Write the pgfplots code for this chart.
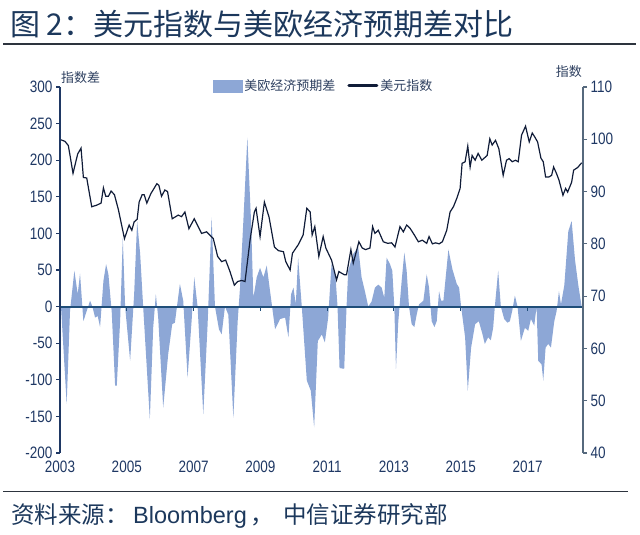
\documentclass[border=0pt]{standalone}
\usepackage{pgfplots}
\pgfplotsset{compat=1.18}
\usepackage{fontspec}
\setmainfont{Liberation Sans}
\newfontfamily\narrow{Liberation Sans}[FakeStretch=0.82]
\newfontfamily\cjk{Noto Sans CJK SC}
\definecolor{areacol}{RGB}{141,167,214}
\definecolor{linecol}{RGB}{16,28,56}
\definecolor{zerocol}{RGB}{31,78,121}
\definecolor{tickcol}{RGB}{31,56,100}
\definecolor{titlecol}{RGB}{28,56,92}
\definecolor{rulecol}{RGB}{45,52,62}
\definecolor{raxcol}{RGB}{86,105,125}
\definecolor{legcol}{RGB}{46,64,96}
\begin{document}
\begin{tikzpicture}[x=1pt,y=1pt]
\path[use as bounding box] (0,0) rectangle (640,535);
\node[anchor=base west, text=titlecol, font=\cjk\fontsize{30}{30}\selectfont, inner sep=0] at (10,499) {图 2：美元指数与美欧经济预期差对比};
\draw[rulecol, line width=2pt] (3,491) -- (636,491);
\draw[rulecol, line width=1.5pt] (3,43.5) -- (628,43.5);
\node[anchor=base west, inner sep=0, font=\cjk\fontsize{23.5}{23.5}\selectfont, text=titlecol] at (11,11) {资料来源：};
\node[anchor=base west, inner sep=0, font=\fontsize{23.5}{23.5}\selectfont, text=titlecol] at (133,11) {Bloomberg};
\node[anchor=base west, inner sep=0, font=\cjk\fontsize{23.5}{23.5}\selectfont, text=titlecol] at (250,11) {，};
\node[anchor=base west, inner sep=0, font=\cjk\fontsize{23.5}{23.5}\selectfont, text=titlecol] at (283,11) {中信证券研究部};
\node[anchor=west, inner sep=0, font=\cjk\fontsize{13}{13}\selectfont, text=legcol] at (61,457.5) {指数差};
\node[anchor=east, inner sep=0, font=\cjk\fontsize{13}{13}\selectfont, text=legcol] at (582,463) {指数};

\begin{axis}[at={(60pt,82pt)}, anchor=south west, scale only axis,
  width=523pt, height=366pt,
  xmin=2003, xmax=2018.66, ymin=-200, ymax=300,
  axis y line*=left, axis x line*=bottom,
  x axis line style={draw=none},
  y axis line style={tickcol, line width=1.4pt},
  xtick={2003,2005,...,2017},
  xtick style={draw=none},
  ytick={-200,-150,...,300},
  ytick align=outside,
  ytick style={tickcol, line width=1.2pt},
  major tick length=4pt,
  /pgf/number format/assume math mode=true,
  /pgf/number format/1000 sep={},
  tick label style={font=\narrow\fontsize{16.5}{16.5}\selectfont, text=tickcol},
  xticklabel style={yshift=-4pt},
  axis on top,
  clip=false]
\addplot[fill=areacol, draw=none] coordinates {
(2003.03,0) (2003.20,-133) (2003.30,-6) (2003.43,49) (2003.53,17) (2003.60,45)
(2003.70,-20) (2003.80,-6) (2003.90,8) (2003.97,0) (2004.05,-15) (2004.13,-13)
(2004.20,-28) (2004.30,35) (2004.38,58) (2004.45,44) (2004.55,-8) (2004.65,-108)
(2004.70,-108) (2004.80,-20) (2004.88,94) (2004.95,0) (2005.10,-74) (2005.22,17)
(2005.31,117) (2005.40,72) (2005.49,0) (2005.69,-154) (2005.79,-29) (2005.87,17)
(2005.94,-15) (2006.09,-138) (2006.24,-65) (2006.36,-24) (2006.44,-22) (2006.59,31)
(2006.69,8) (2006.82,-97) (2006.94,-20) (2007.02,40) (2007.12,0) (2007.29,-147)
(2007.42,-24) (2007.54,122) (2007.64,0) (2007.76,-31) (2007.84,-38) (2007.94,0)
(2008.04,-11) (2008.19,-152) (2008.32,-20) (2008.39,26) (2008.49,117) (2008.61,231)
(2008.72,117) (2008.79,12) (2008.89,40) (2008.99,53) (2009.09,40) (2009.19,56)
(2009.29,21) (2009.44,-31) (2009.59,-17) (2009.74,-15) (2009.84,-42) (2009.92,17)
(2009.99,26) (2010.06,3) (2010.13,67) (2010.24,0) (2010.39,-101) (2010.51,-115)
(2010.61,-165) (2010.72,-47) (2010.84,-38) (2010.93,-49) (2011.03,-15) (2011.13,58)
(2011.25,40) (2011.31,0) (2011.37,-84) (2011.51,-85) (2011.58,0) (2011.63,49)
(2011.78,72) (2011.93,81) (2012.03,40) (2012.13,21) (2012.23,0) (2012.33,7)
(2012.43,26) (2012.53,30) (2012.63,26) (2012.71,12) (2012.78,67) (2012.88,58)
(2012.95,49) (2013.01,0) (2013.06,-85) (2013.13,-20) (2013.23,35) (2013.31,74)
(2013.38,49) (2013.45,0) (2013.53,-24) (2013.61,-28) (2013.68,-11) (2013.75,3)
(2013.88,8) (2013.98,44) (2014.05,26) (2014.13,-20) (2014.21,-28) (2014.28,-20)
(2014.35,21) (2014.41,8) (2014.48,8) (2014.63,78) (2014.75,51) (2014.88,31)
(2014.95,26) (2015.01,0) (2015.13,-42) (2015.21,-115) (2015.31,-56) (2015.43,-24)
(2015.54,-20) (2015.64,-36) (2015.72,-51) (2015.82,-42) (2015.90,-46) (2015.97,-29)
(2016.02,0) (2016.12,49) (2016.20,0) (2016.30,-17) (2016.40,-22) (2016.47,-20)
(2016.54,-6) (2016.62,15) (2016.70,0) (2016.80,-47) (2016.92,-29) (2017.02,-33)
(2017.10,-17) (2017.20,-26) (2017.27,0) (2017.32,-74) (2017.42,-79) (2017.47,-101)
(2017.54,-56) (2017.62,-51) (2017.70,-56) (2017.80,-20) (2017.87,-6) (2017.94,21)
(2018.00,3) (2018.10,29) (2018.22,103) (2018.32,117) (2018.42,64) (2018.52,29)
(2018.62,0)
} \closedcycle;
\addplot[zerocol, line width=2pt] coordinates {(2003,0) (2018.66,0)};
\pgfplotsinvokeforeach{2005,2007,2009,2011,2013,2015,2017}{
  \draw[zerocol, line width=1pt] (axis cs:#1,0) -- ++(0pt,-4pt);
}
\end{axis}

\begin{axis}[at={(60pt,82pt)}, anchor=south west, scale only axis,
  width=523pt, height=366pt,
  xmin=2003, xmax=2018.66, ymin=40, ymax=110,
  axis y line*=right, axis x line=none,
  y axis line style={raxcol, line width=1.4pt},
  ytick={40,50,...,110},
  ytick align=outside,
  ytick style={raxcol, line width=1.2pt},
  major tick length=4pt,
  /pgf/number format/assume math mode=true,
  tick label style={font=\narrow\fontsize{16.5}{16.5}\selectfont, text=tickcol},
  legend columns=2,
  legend style={draw=none, fill=none, inner sep=0pt, outer sep=0pt,
    at={(axis description cs:0.2925,1.003)}, anchor=west,
    font=\cjk\fontsize{13}{13}\selectfont, text=legcol,
    /tikz/every even column/.append style={column sep=10pt},
    nodes={inner sep=2pt}},
  clip=false]
\addlegendimage{legend image code/.code={\fill[areacol] (0pt,-6pt) rectangle (29pt,6pt);}}
\addlegendentry{美欧经济预期差}
\addplot[linecol, line width=1.2pt, sharp plot,
  legend image code/.code={\draw[linecol, line width=3pt, line cap=round] (1.5pt,0pt) -- (29.5pt,0pt);}] coordinates {
(2003.03,99.9) (2003.15,99.6) (2003.25,98.8) (2003.39,93.5) (2003.53,97.2) (2003.63,98.3)
(2003.70,92.7) (2003.80,92.6) (2003.95,87.1) (2004.10,87.4) (2004.23,87.8) (2004.30,90.7)
(2004.37,89.1) (2004.45,89.1) (2004.53,90.1) (2004.63,89.4) (2004.75,86.5) (2004.93,81.0)
(2005.07,83.6) (2005.15,82.6) (2005.22,84.2) (2005.31,84.7) (2005.37,88.0) (2005.46,89.4)
(2005.52,89.4) (2005.60,87.8) (2005.72,89.6) (2005.90,91.5) (2005.96,91.2) (2006.04,89.1)
(2006.14,90.3) (2006.22,90.0) (2006.36,84.8) (2006.54,85.5) (2006.64,85.2) (2006.74,86.1)
(2006.86,82.9) (2007.02,84.8) (2007.24,82.0) (2007.39,82.3) (2007.59,81.0) (2007.72,77.6)
(2007.84,76.6) (2007.96,76.9) (2008.09,74.7) (2008.22,72.1) (2008.32,72.8) (2008.44,73.0)
(2008.54,72.8) (2008.69,80.7) (2008.82,86.1) (2008.87,86.8) (2008.99,81.4) (2009.12,88.0)
(2009.26,85.1) (2009.42,79.4) (2009.54,78.7) (2009.69,78.5) (2009.76,76.6) (2009.89,75.0)
(2009.96,78.2) (2010.13,79.8) (2010.28,81.7) (2010.39,86.8) (2010.49,86.1) (2010.55,81.7)
(2010.63,83.3) (2010.75,77.6) (2010.88,81.4) (2010.96,79.2) (2011.13,76.9) (2011.28,73.1)
(2011.35,74.7) (2011.51,74.1) (2011.58,74.1) (2011.71,78.9) (2011.78,76.3) (2011.95,80.4)
(2012.05,79.2) (2012.15,78.9) (2012.28,79.2) (2012.36,83.3) (2012.43,82.0) (2012.53,82.6)
(2012.68,80.4) (2012.81,80.1) (2012.93,80.2) (2013.03,79.4) (2013.18,83.3) (2013.28,82.3)
(2013.38,83.6) (2013.48,83.0) (2013.61,81.7) (2013.73,80.4) (2013.85,80.7) (2013.98,80.1)
(2014.05,81.4) (2014.15,80.0) (2014.25,80.2) (2014.35,80.0) (2014.45,80.4) (2014.58,82.6)
(2014.68,86.1) (2014.78,87.1) (2014.88,88.7) (2014.98,90.6) (2015.04,95.4) (2015.13,95.7)
(2015.21,98.7) (2015.28,94.7) (2015.34,96.9) (2015.43,96.0) (2015.52,97.3) (2015.63,96.0)
(2015.79,96.9) (2015.87,100.1) (2015.94,98.9) (2016.04,99.8) (2016.14,98.2) (2016.27,93.1)
(2016.37,96.0) (2016.45,96.3) (2016.54,95.7) (2016.64,96.0) (2016.72,95.7) (2016.82,100.8)
(2016.94,102.5) (2017.05,99.5) (2017.14,101.2) (2017.22,100.4) (2017.30,99.5) (2017.40,96.4)
(2017.47,95.7) (2017.54,92.8) (2017.64,92.8) (2017.72,93.1) (2017.78,94.7) (2017.87,93.4)
(2017.94,92.2) (2018.06,89.3) (2018.14,90.6) (2018.20,89.9) (2018.32,91.8) (2018.38,94.1)
(2018.50,94.6) (2018.62,95.5)
};
\addlegendentry{美元指数}
\end{axis}
\end{tikzpicture}
\end{document}
